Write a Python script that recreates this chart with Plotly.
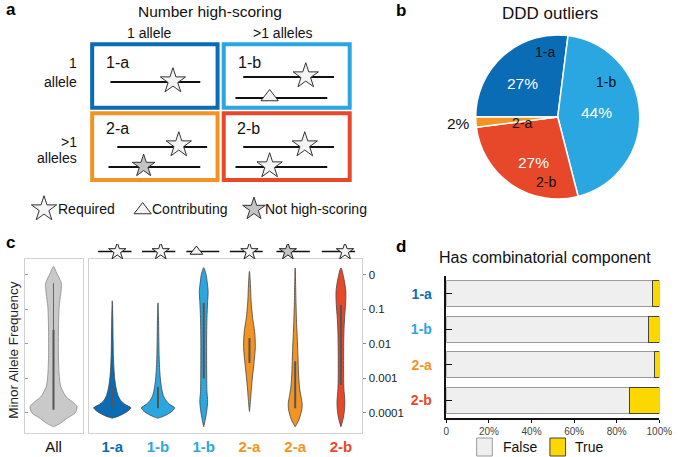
import plotly.graph_objects as go

W, H = 685, 457
FONT = "Liberation Sans, Arial, Helvetica, sans-serif"

C1A = "#0a6cb4"
C1B = "#2aa7e0"
C2A = "#f39422"
C2B = "#e8482a"

# ---------------- Panel b data (clockwise order) ----------------
pie_labels = ["1-a", "1-b", "2-b", "2-a"]
pie_values = [27, 44, 27, 2]
pie_colors = [C1A, C1B, C2B, C2A]

# ---------------- Panel c data (violin profiles, log10 MAF vs half-width) ----------------
all_v = [0.24, 0.05, -0.24, -0.53, -0.92, -1.4, -2.17, -2.85, -3.24, -3.53, -3.67, -3.82, -4.0, -4.15, -4.3, -4.4]
all_w = [0, 3.3, 8, 7.5, 5.8, 5.2, 5, 5.7, 7.5, 13, 19, 24, 22, 14, 7, 0]
all_whisk = [-0.24, -1.59]
all_iqr = [-1.59, -3.91]

violin_names = ["1-a", "1-b", "1-b", "2-a", "2-a", "2-b"]
violin_colors = [C1A, C1B, C1B, C2A, C2A, C2B]
v1_v = [-0.75, -1.2, -1.8, -2.3, -2.6, -2.95, -3.25, -3.5, -3.65, -3.75, -3.85, -3.92, -4.0, -4.07, -4.12, -4.15]
v1_w = [0, 0.5, 0.8, 1.1, 1.5, 2.3, 3.7, 6, 9, 13, 19, 17, 13, 8, 4, 0]
v2_v = [-0.81, -1.2, -1.8, -2.3, -2.6, -2.95, -3.25, -3.5, -3.65, -3.75, -3.85, -3.92, -4.0, -4.07, -4.12, -4.15]
v2_w = [0, 0.5, 0.8, 1.1, 1.5, 2.2, 3.5, 5.5, 8.5, 12, 17, 15.5, 12, 7.5, 3.5, 0]
v3_v = [0.21, 0.0, -0.2, -0.48, -0.77, -1.26, -1.74, -2.7, -3.38, -3.67, -3.96, -4.2, -4.4]
v3_w = [0, 2.5, 3.5, 4.5, 4, 3.3, 3, 3, 3.3, 4, 3, 1.5, 0]
v4_v = [0.1, -0.29, -0.77, -1.26, -1.64, -2.08, -2.51, -2.9, -3.28, -3.67, -3.96]
v4_w = [0, 1, 1.7, 3.3, 5.3, 6, 4.8, 3.3, 2, 1, 0]
v5_v = [0.2, -0.77, -1.45, -1.93, -2.5, -2.9, -3.28, -3.5, -3.7, -3.86, -4.1, -4.25, -4.4]
v5_w = [0, 0.8, 1.5, 2.3, 3, 3.5, 4.5, 5.8, 7, 7, 5, 3, 0]
v6_v = [0.2, -0.1, -0.48, -0.87, -1.26, -1.74, -2.7, -3.28, -3.67, -3.96, -4.2, -4.4]
v6_w = [0, 3, 5, 4.7, 3.7, 3, 2.7, 3, 4, 3.5, 2, 0]
violin_profiles = [(v1_v, v1_w), (v2_v, v2_w), (v3_v, v3_w), (v4_v, v4_w), (v5_v, v5_w), (v6_v, v6_w)]
violin_iqr = [(-3.24, -3.86), (-3.24, -3.86), (-0.81, -3.0), (-1.83, -2.55), (-2.5, -3.86), (-0.87, -3.19)]

maf_tickvals = [0, -1, -2, -3, -4]
maf_ticktext = ["0", "0.1", "0.01", "0.001", "0.0001"]

# glyph above each violin: kind, line extent (offsets), glyph offset
glyph_kind = ["req", "req", "contrib", "req", "nothigh", "req"]
glyph_line = [(-0.31, 0.42), (-0.35, 0.38), (-0.38, 0.34), (-0.43, 0.29), (-0.41, 0.32), (-0.42, 0.31)]
glyph_off = [0.11, 0.06, -0.16, 0.0, -0.16, 0.09]

# ---------------- Panel d data ----------------
d_cats = ["1-a", "1-b", "2-a", "2-b"]
d_false = [96.8, 94.8, 97.7, 85.8]
d_true = [3.2, 5.2, 2.3, 14.2]
d_colors = [C1A, C1B, C2A, C2B]
d_ticks = [0, 20, 40, 60, 80, 100]
d_ticktext = ["0", "20%", "40%", "60%", "80%", "100%"]

WSCALE = 1 / 46.8  # px of half-width -> category units

fig = go.Figure()

# ---------------- Panel c: violins ----------------
def add_violin(center, v, w, fill, outline, xa, ya):
    hw = [x * WSCALE for x in w]
    xs = [center + h for h in hw] + [center - h for h in reversed(hw)]
    ys = list(v) + list(reversed(v))
    fig.add_trace(go.Scatter(x=xs, y=ys, mode="lines", fill="toself", fillcolor=fill,
                             line=dict(color=outline, width=0.8, shape="spline", smoothing=0.8),
                             hoverinfo="skip", showlegend=False, xaxis=xa, yaxis=ya))

add_violin(0, all_v, all_w, "#c9c9c9", "#8a8a8a", "x", "y")
fig.add_trace(go.Scatter(x=[0, 0], y=all_whisk, mode="lines", line=dict(color="#666", width=1),
                         hoverinfo="skip", showlegend=False, xaxis="x", yaxis="y"))
fig.add_trace(go.Scatter(x=[0, 0], y=all_iqr, mode="lines", line=dict(color="#555", width=2),
                         hoverinfo="skip", showlegend=False, xaxis="x", yaxis="y"))

for i, ((vv, ww), col, iqr) in enumerate(zip(violin_profiles, violin_colors, violin_iqr)):
    add_violin(i, vv, ww, col, "#444", "x2", "y2")
    fig.add_trace(go.Scatter(x=[i, i], y=list(iqr), mode="lines", line=dict(color="#555", width=2),
                             hoverinfo="skip", showlegend=False, xaxis="x2", yaxis="y2"))

# glyph row above violins
gx, gy = [], []
for i, (a, b) in enumerate(glyph_line):
    gx += [i + a, i + b, None]
    gy += [0.5, 0.5, None]
fig.add_trace(go.Scatter(x=gx, y=gy, mode="lines", line=dict(color="#111", width=1.5),
                         hoverinfo="skip", showlegend=False, xaxis="x4", yaxis="y4"))
sym = {"req": ("star", "#f4f4f4", 13), "contrib": ("triangle-up", "#f4f4f4", 11), "nothigh": ("star", "#c4c4c4", 13)}
for i, k in enumerate(glyph_kind):
    s, c, sz = sym[k]
    fig.add_trace(go.Scatter(x=[i + glyph_off[i]], y=[0.5], mode="markers",
                             marker=dict(symbol=s, color=c, size=sz, line=dict(color="#222", width=1)),
                             hoverinfo="skip", showlegend=False, xaxis="x4", yaxis="y4"))

# ---------------- Panel d: bars ----------------
fig.add_trace(go.Bar(y=d_cats, x=d_false, orientation="h", width=0.73,
                     marker=dict(color="#efefef", line=dict(color="#9a9a9a", width=1)),
                     name="False", showlegend=False, xaxis="x3", yaxis="y3"))
fig.add_trace(go.Bar(y=d_cats, x=d_true, orientation="h", width=0.73,
                     marker=dict(color="#fdd700", line=dict(color="#444", width=1)),
                     name="True", showlegend=False, xaxis="x3", yaxis="y3"))

# ---------------- Panel b: pie ----------------
fig.add_trace(go.Pie(labels=pie_labels, values=pie_values, sort=False, direction="clockwise",
                     rotation=-90, marker=dict(colors=pie_colors, line=dict(color="white", width=1.5)),
                     textinfo="none", showlegend=False, hoverinfo="label+percent",
                     domain=dict(x=[484 / W, 652 / W], y=[1 - 201 / H, 1 - 33 / H])))

# ---------------- Panel a: schematic (pixel overlay axis x5/y5) ----------------
a_boxes = [(91.3, 44.3, 219.7, 107.7, C1A), (226, 44.3, 355, 107.7, C1B),
           (91.3, 113.3, 219.7, 180, C2A), (226, 113.3, 355, 180, C2B)]
a_lines = [(82, 110, 202), (77, 246, 339), (98, 238, 332), (147, 117, 209), (167, 108, 202),
           (147, 246, 339), (167, 238, 332)]
a_req = [(174, 81), (310, 76), (180, 145), (309, 145), (273, 166), (42, 209)]
a_contrib = [(273, 97), (143, 210)]
a_nothigh = [(144, 166), (257, 209)]

shapes = []
for x0, y0, x1, y1, c in a_boxes:
    shapes.append(dict(type="rect", xref="x5", yref="y5", x0=x0, y0=y0, x1=x1, y1=y1,
                       line=dict(color=c, width=4), fillcolor="white", layer="below"))
lx, ly = [], []
for y, x0, x1 in a_lines:
    lx += [x0, x1, None]
    ly += [y, y, None]
fig.add_trace(go.Scatter(x=lx, y=ly, mode="lines", line=dict(color="#111", width=2),
                         hoverinfo="skip", showlegend=False, xaxis="x5", yaxis="y5"))
for pts, s, c, sz in [(a_req, "star", "#f4f4f4", 19), (a_contrib, "triangle-up", "#f4f4f4", 15),
                      (a_nothigh, "star", "#c4c4c4", 17)]:
    fig.add_trace(go.Scatter(x=[p[0] for p in pts], y=[p[1] for p in pts], mode="markers",
                             marker=dict(symbol=s, color=c, size=sz, line=dict(color="#333", width=1)),
                             hoverinfo="skip", showlegend=False, xaxis="x5", yaxis="y5"))

# legend boxes for panel d
shapes.append(dict(type="rect", xref="x5", yref="y5", x0=485, y0=438, x1=501, y1=456,
                   line=dict(color="#9a9a9a", width=1), fillcolor="#efefef"))
shapes.append(dict(type="rect", xref="x5", yref="y5", x0=560, y0=438, x1=576, y1=456,
                   line=dict(color="#444", width=1), fillcolor="#fdd700"))

ann = []
def A(x, y, t, size=14, color="#111", xanchor="center", bold=False, angle=0):
    if bold:
        t = "<b>" + t + "</b>"
    ann.append(dict(x=x, y=y, xref="x5", yref="y5", text=t, showarrow=False, xanchor=xanchor,
                    yanchor="middle", textangle=angle, font=dict(size=size, color=color, family=FONT)))

# panel letters
A(1, 9, "a", 17, "#000", "left", True)
A(400, 10, "b", 17, "#000", "left", True)
A(1, 242, "c", 17, "#000", "left", True)
A(400, 246, "d", 17, "#000", "left", True)
# panel a texts
A(212, 11, "Number high-scoring", 15.5)
A(150, 33, "1 allele", 14)
A(287, 33, ">1 alleles", 14)
A(103, 62, "1-a", 16, xanchor="left")
A(239, 62, "1-b", 16, xanchor="left")
A(103, 128, "2-a", 16, xanchor="left")
A(238, 128, "2-b", 16, xanchor="left")
A(78, 63, "1", 14, xanchor="right")
A(78, 82, "allele", 14, xanchor="right")
A(-1, 100, "Number", 15.5, xanchor="left")
A(-1, 119, "required", 15.5, xanchor="left")
A(78, 142, ">1", 14, xanchor="right")
A(78, 158, "alleles", 14, xanchor="right")
A(54, 209, "Required", 14, xanchor="left")
A(150, 209, "Contributing", 14, xanchor="left")
A(266, 209, "Not high-scoring", 14, xanchor="left")
# panel b texts
A(560, 13, "DDD outliers", 17)
A(555, 52, "1-a", 14)
A(532, 83, "27%", 15.5, "white")
A(617, 82, "1-b", 14)
A(608, 112, "44%", 15.5, "white")
A(543, 162, "27%", 15.5, "white")
A(556, 182, "2-b", 14)
A(531, 123, "2-a", 14)
A(466, 123, "2%", 15.5)
# panel c
A(10, 350, "Minor Allele Frequency", 13.5, "#222", angle=-90)
# panel d
A(555, 257, "Has combinatorial component", 16)
A(510, 447, "False", 14, xanchor="left")
A(584, 447, "True", 14, xanchor="left")

def colored(t, c):
    return '<b><span style="color:%s">%s</span></b>' % (c, t)

box_line = "#d2d2d2"
layout = dict(
    width=W, height=H, autosize=False, margin=dict(l=0, r=0, t=0, b=0),
    paper_bgcolor="white", plot_bgcolor="rgba(0,0,0,0)", showlegend=False,
    font=dict(family=FONT, color="#111"), barmode="stack",
    shapes=shapes, annotations=ann,
    xaxis=dict(domain=[23 / W, 82 / W], range=[-0.613, 0.647], anchor="y", showgrid=False, zeroline=False,
               showline=True, mirror=True, linecolor=box_line, linewidth=1, ticks="",
               tickvals=[0], ticktext=["All"], tickfont=dict(size=15, color="#111")),
    yaxis=dict(domain=[1 - 433 / H, 1 - 259 / H], range=[-4.58, 0.46], anchor="x", showgrid=False,
               zeroline=False, showline=True, mirror=True, linecolor=box_line, linewidth=1,
               ticks="inside", ticklen=3, tickcolor="#999", tickvals=maf_tickvals, showticklabels=False),
    xaxis2=dict(domain=[88 / W, 368 / W], range=[-0.51, 5.47], anchor="y2", showgrid=False, zeroline=False,
                showline=True, mirror=True, linecolor=box_line, linewidth=1, ticks="",
                tickvals=list(range(6)), ticktext=[colored(n, c) for n, c in zip(violin_names, violin_colors)],
                tickfont=dict(size=15)),
    yaxis2=dict(domain=[1 - 433 / H, 1 - 259 / H], range=[-4.58, 0.46], anchor="x2", side="right",
                showgrid=False, zeroline=False, showline=True, mirror=True, linecolor=box_line, linewidth=1,
                ticks="outside", ticklen=3, tickcolor="#888", tickvals=maf_tickvals, ticktext=maf_ticktext,
                tickfont=dict(size=11.5, color="#222")),
    xaxis3=dict(domain=[454 / W, 672 / W], range=[0, 100], anchor="y3", showgrid=False, zeroline=False,
                showline=True, linecolor="#111", linewidth=1.5, ticks="outside", ticklen=3, tickcolor="#111",
                tickvals=d_ticks, ticktext=d_ticktext, tickfont=dict(size=10, color="#444")),
    yaxis3=dict(domain=[1 - 418 / H, 1 - 276 / H], range=[3.5, -0.5], anchor="x3", type="category",
                categoryorder="array", categoryarray=d_cats, showgrid=False, zeroline=False,
                showline=True, linecolor="#111", linewidth=1.5, ticks="inside", ticklen=6, tickcolor="#111",
                tickvals=d_cats, ticktext=[colored(n, c) for n, c in zip(d_cats, d_colors)],
                tickfont=dict(size=14), ticklabelstandoff=10),
    xaxis4=dict(domain=[88 / W, 368 / W], range=[-0.51, 5.47], anchor="y4", visible=False),
    yaxis4=dict(domain=[1 - 259 / H, 1 - 244 / H], range=[0, 1], anchor="x4", visible=False),
    xaxis5=dict(domain=[0, 1], range=[0, W], anchor="y5", visible=False),
    yaxis5=dict(domain=[0, 1], range=[H, 0], anchor="x5", visible=False),
)
fig.update_layout(**layout)

fig.write_html("out.html", config={"displayModeBar": False},
               post_script="document.body.style.margin='0';")
